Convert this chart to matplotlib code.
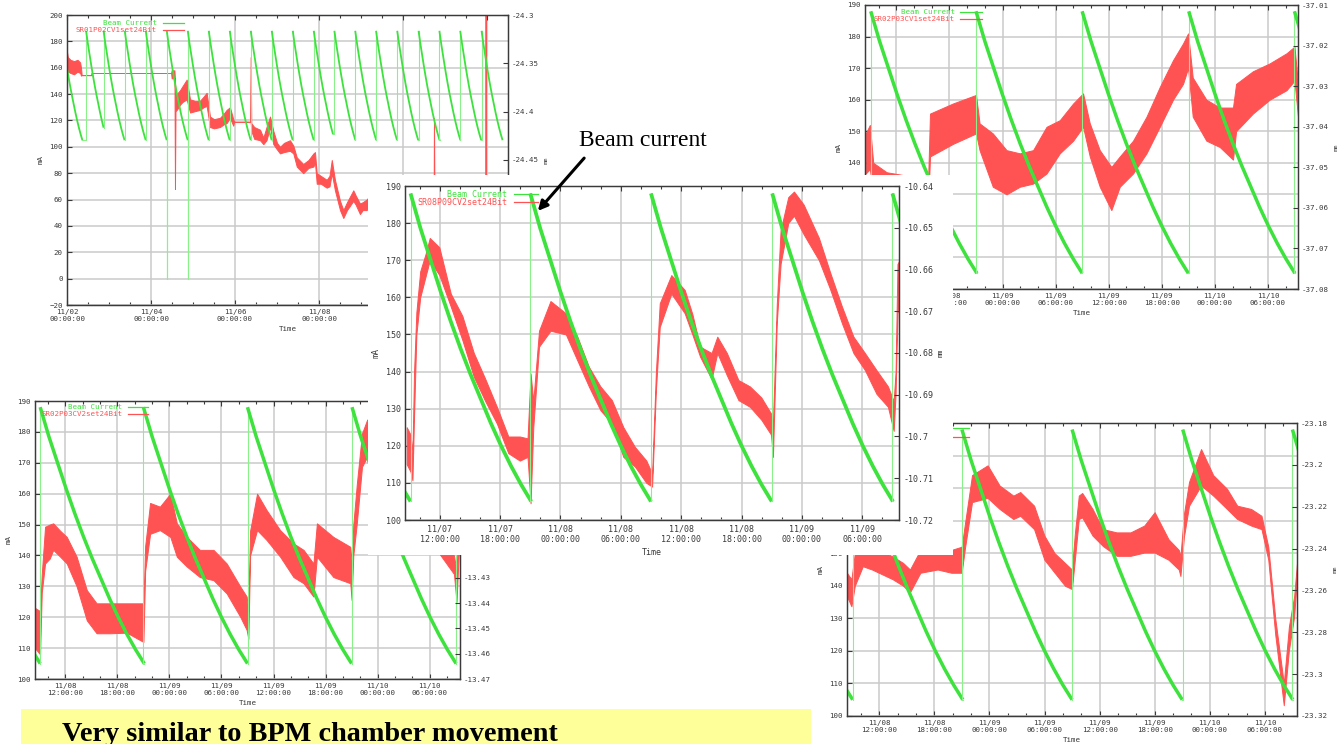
import numpy as np
import matplotlib.pyplot as plt
from matplotlib.patches import Rectangle, FancyArrowPatch
from matplotlib.ticker import MultipleLocator

W, H = 1340, 744
GREEN = '#3de23d'
GREEN_THIN = '#8af08a'
RED = '#ff5252'
GRID = '#cacaca'
INK = '#3a3a3a'

plt.rcParams['font.family'] = ['DejaVu Sans Mono']

# beam current after a refill: hours since refill -> mA
DECAY_H = [0, 1, 2, 3, 4, 5, 6, 7, 8, 9, 10, 11, 12]
DECAY_MA = [188, 178.5, 170, 161.5, 153.5, 146, 139, 132.5, 126, 120, 114.5, 109.5, 105]

# refill times (hours from first midnight of each window)
REFILLS_2DAY = [-2.9, 9.1, 21.0, 33.0, 45.05, 57.0]
REFILLS_10DAY = [-3.2, 10.9, 20.9, 33.0, 45.0, 57.0, 69.0, 81.0, 93.0, 105.0, 117.0,
                 129.0, 141.0, 152.8, 164.7, 176.6, 188.7, 200.9, 212.8, 224.7, 236.9]
DUMPS_10DAY = [57.0, 69.0]

# corrector setpoints, read as band (low/high) in mA-axis units
TL_T = [0.0, 0.5, 2, 4, 6, 7.5, 8.0, 8.4, 14.0, 14.1, 59.5, 59.8, 61.4, 61.7, 62.0, 62.7,
        64.6, 66, 68.4, 70.3, 73, 76, 78, 79.8, 81.7, 84, 87.4, 89.5, 91.2, 93.1, 95, 95.5,
        104.6, 104.95, 105.3, 107, 110.3, 112.2, 114, 116, 117.9, 120, 121.7, 124, 127.4,
        129.3, 131.3, 135, 138, 140.8, 141.7, 142.7, 145, 148.4, 150, 151.3, 153.1, 156,
        157.9, 160, 163.6, 165, 167.4, 169, 171.2, 173, 180, 190, 200, 209.5, 209.7, 210,
        220, 230, 239.0, 239.2, 239.4, 252]
TL_LO = [160, 157, 156, 155, 157, 156, 154, 154.4, 154.4, 156, 156, 152, 152, 68, 127, 128,
         132, 134, 136, 126, 127, 128, 130, 131, 115, 114, 115, 117, 118, 122, 116, 119,
         119, 119, 112, 106, 105, 102, 105, 115, 102, 98, 95, 96, 97,
         95, 85, 80, 84, 85, 88, 72, 72, 69, 70, 80, 67, 52,
         46, 52, 59, 56, 49, 52, 52, 55, 50, 45, 48, 50, 50, 48,
         44, 46, 45, 40, 45, 42]
TL_HI = [172, 168, 166, 165, 166, 164, 160, 154.4, 154.4, 156, 156, 158, 158, 150, 140, 140,
         143, 146, 151, 136, 135, 135, 138, 141, 123, 121, 122, 125, 128, 130, 121, 119,
         119, 168, 118, 115, 113, 107, 115, 123, 112, 103, 100, 103, 105,
         101, 92, 87, 90, 95, 96, 80, 78, 75, 78, 90, 75, 59,
         52, 58, 67, 63, 57, 58, 60, 63, 58, 55, 56, 58, 122, 56,
         52, 54, 53, 205, 53, 50]

C_T = [8.72, 9.10, 9.29, 9.45, 9.68, 10.06, 10.63, 11.01, 11.96, 13.1, 14.25, 15.39, 16.53,
       17.68, 18.82, 19.96, 20.73, 21.03, 21.3, 21.87, 23.01, 24.54, 25.68, 26.82, 27.97,
       29.11, 30.25, 31.4, 32.54, 33.11, 33.49, 33.87, 35.02, 36.35, 37.11, 37.88, 39.02,
       39.59, 40.54, 41.69, 42.83, 43.97, 44.93, 45.12, 45.5, 45.88, 46.64, 47.21, 48.17,
       49.69, 50.83, 51.98, 53.12, 54.26, 55.41, 56.55, 57.12, 57.31, 57.5, 57.69]
C_LO = [115, 113, 110.7, 128, 150, 160, 166, 170, 166, 157.5, 148.5, 138.6, 132,
        126, 118, 116, 117, 104.5, 125, 146.7, 151, 150, 143, 136, 129.6,
        126, 117, 114.4, 110, 109, 135, 152, 161, 155.7, 150, 144, 138,
        145, 139, 132.3, 130.5, 127, 123, 117, 153, 169, 180, 182, 177,
        170, 162, 153, 145, 140.4, 134, 130.5, 124, 134, 155.7, 158]
C_HI = [125, 123, 118, 140, 156, 167, 172, 176, 173.5, 161, 155, 145, 138,
        130.5, 122.5, 122.5, 122, 139.5, 132, 151, 159, 155.7, 149.4, 141.3, 136,
        132.3, 125, 119.7, 116, 112.5, 140, 158.4, 166, 162, 155.5, 146.7, 145,
        149.4, 145, 137.7, 136, 133, 128.7, 126, 158, 178, 187, 188.5, 185,
        176, 166.5, 157.5, 149.4, 145, 140.4, 136, 132, 140, 169, 170]

TR_T = [8.53, 9.0, 9.38, 10.9, 13, 15.6, 15.8, 18.4, 21.0, 21.4, 22.9, 24.45, 25.95, 27.45,
        28.97, 30.47, 31.98, 33.1, 33.86, 34.99, 36.3, 37.25, 38.75, 40.27, 41.77, 43.27,
        44.4, 44.97, 45.5, 47.04, 48.55, 50.05, 50.4, 52.3, 54.2, 56.1, 57.0, 57.4]
TR_LO = [136.6, 138, 130, 128, 127, 127, 142, 146, 149.3, 144, 132.4, 130, 132.4, 133.4,
         136.6, 143, 147, 151.4, 142, 132.4, 125, 132.4, 136.6, 143, 151.4, 160,
         165, 170, 154.6, 147, 145, 141, 150, 155.6, 160, 163, 166, 154.6]
TR_HI = [149.3, 152, 140, 137, 136, 136, 155.6, 158.8, 161.5, 152.5, 149.3, 144, 143, 144,
         151.4, 153.5, 158.8, 162, 152.5, 144, 138.7, 142, 147, 154.6, 164, 172.5,
         177.8, 181, 167, 160, 157.5, 157.5, 165, 169, 171.5, 174.7, 176.8, 165]

BL_T = [8.5, 9.08, 9.28, 9.66, 10.2, 10.6, 11.4, 12.16, 13.3, 14.47, 15.6, 17.16, 19.08,
        21.0, 21.2, 21.77, 22.9, 24.1, 24.85, 26.0, 27.5, 29.08, 30.6, 32.15, 32.9, 33.1,
        33.3, 34.1, 35.2, 36.76, 38.3, 39.46, 40.6, 41.0, 42.9, 44.85, 45.0, 45.2, 45.6,
        46.2, 46.8, 48.5, 50.5, 52.5, 54.5, 56.8, 57.1, 57.5]
BL_LO = [110, 108, 128, 137.4, 139, 141.8, 139.6, 137.4, 130, 119, 114.8, 114.8, 115,
         112, 135, 147, 148.2, 146, 139.6, 136.4, 133, 132, 127.7, 120.2, 115.9, 113,
         140, 148.2, 145, 139.6, 133, 131, 126.7, 139.6, 133, 131, 125.6, 140, 150.4,
         168.7, 172, 170, 160, 150, 143, 134, 125, 150]
BL_HI = [123, 122, 134, 149.3, 150, 150.4, 148, 146, 139.6, 128.8, 124.5, 124.5, 124.5,
         124.5, 143, 157, 155.8, 160, 150.4, 146, 141.8, 141.8, 137.4, 130, 126.7, 122,
         148, 160, 154.7, 148.2, 143.9, 141.8, 137.4, 150.4, 146, 142.8, 138, 150, 163,
         179.5, 184, 180, 170, 160, 151, 140, 135, 160]

BR_T = [8.47, 8.96, 9.33, 10.2, 11.2, 13.46, 14.6, 15.34, 16.47, 18.34, 19.85, 20.97, 21.35,
        22.1, 23.8, 25.1, 26.6, 27.35, 28.86, 29.98, 31.1, 32.23, 32.98, 33.3, 33.73, 34.1,
        35.23, 36.36, 37.86, 39.36, 40.86, 41.99, 43.5, 44.62, 44.8, 45.18, 45.74, 47.05,
        48.37, 49.87, 50.99, 52.5, 53.63, 54.37, 55.13, 56.06, 56.62, 57.19, 57.5]
BR_LO = [136.8, 133.7, 140, 146, 145, 142, 140, 138, 144, 145, 144, 144, 152,
         165.7, 167, 163.6, 160.5, 161.5, 157.4, 148, 144, 140, 139, 148, 160.5, 161,
         155.4, 152.2, 149.2, 149.2, 150.2, 150.2, 148, 145, 143, 155, 164.6, 170.8,
         167.7, 163.6, 160.5, 158.5, 157.4, 148, 125, 103.3, 120.3, 130.6, 143]
BR_HI = [144, 142, 150, 156, 152, 149, 147, 145, 151, 150, 151, 152, 159.5,
         174, 177, 170.8, 167.7, 168.8, 164.6, 155.4, 150, 147, 145, 156, 167.7, 168.5,
         163.6, 157.4, 156.4, 156.4, 158.5, 162.6, 154.3, 151, 149, 162, 171.9, 182,
         174, 169.8, 164.6, 163.6, 161.5, 152, 130, 110, 127.5, 136.8, 147]

HOURS_6 = [12, 18, 24, 30, 36, 42, 48, 54]
LABELS_0810 = ['11/08\n12:00:00', '11/08\n18:00:00', '11/09\n00:00:00', '11/09\n06:00:00',
               '11/09\n12:00:00', '11/09\n18:00:00', '11/10\n00:00:00', '11/10\n06:00:00']
LABELS_0709 = ['11/07\n12:00:00', '11/07\n18:00:00', '11/08\n00:00:00', '11/08\n06:00:00',
               '11/08\n12:00:00', '11/08\n18:00:00', '11/09\n00:00:00', '11/09\n06:00:00']
HOURS_48 = [0, 48, 96, 144, 192, 240]
LABELS_0212 = ['11/02\n00:00:00', '11/04\n00:00:00', '11/06\n00:00:00', '11/08\n00:00:00',
               '11/10\n00:00:00', '11/12\n00:00:00']

Y2_TL = [-24.6, -24.55, -24.5, -24.45, -24.4, -24.35, -24.3]
Y2_TR = [-37.08, -37.07, -37.06, -37.05, -37.04, -37.03, -37.02, -37.01]
Y2_BL = [-13.47, -13.46, -13.45, -13.44, -13.43]
Y2_BR = [-23.32, -23.3, -23.28, -23.26, -23.24, -23.22, -23.2, -23.18]
Y2_C = [-10.72, -10.71, -10.7, -10.69, -10.68, -10.67, -10.66, -10.65, -10.64]

fig = plt.figure(figsize=(W / 100, H / 100), dpi=100)


def px_rect(x0, y0, x1, y1):
    return [x0 / W, 1 - y1 / H, (x1 - x0) / W, (y1 - y0) / H]


def beam_current(ax, refills, dumps, lw):
    for i, t0 in enumerate(refills):
        gap = refills[i + 1] - t0 if i + 1 < len(refills) else 24
        hh = [t0 + h for h in DECAY_H if h <= gap + 0.15]
        mm = DECAY_MA[:len(hh)]
        ax.plot(hh, mm, color=GREEN, lw=lw, solid_capstyle='butt', zorder=3)
        if i + 1 < len(refills):
            t1 = refills[i + 1]
            low = 0 if t1 in dumps else mm[-1]
            ax.plot([hh[-1], t1, t1, t1], [mm[-1], mm[-1], low, DECAY_MA[0]],
                    color=GREEN_THIN, lw=0.8, zorder=3)


def panel(rect, z, xlim, xticks, xlabels, xminor, ylim, ystep, y2lim, y2ticks,
          refills, dumps, red, name, leg, fs, glw, y2label=True):
    ax = fig.add_axes(px_rect(*rect), zorder=z)
    ax.set_facecolor('white')
    ax.set_xlim(*xlim)
    ax.set_ylim(*ylim)
    ax.set_xticks(xticks, xlabels)
    ax.xaxis.set_minor_locator(MultipleLocator(xminor))
    ax.set_yticks(np.arange(ylim[0], ylim[1] + 1, ystep))
    ax.grid(True, which='major', color=GRID, lw=1.1)
    ax.set_axisbelow(True)
    ax.tick_params(which='both', direction='in', top=True, labelsize=fs, colors=INK,
                   length=3.5, width=0.8, pad=3)
    ax.tick_params(which='minor', length=2)
    for s in ax.spines.values():
        s.set_color(INK)
        s.set_linewidth(0.9)
    ax.set_xlabel('Time', fontsize=fs, color=INK, labelpad=3)
    ax.set_ylabel('mA', fontsize=fs, color=INK, labelpad=4)

    t, lo, hi = red
    ax.fill_between(t, lo, hi, facecolor=RED, edgecolor=RED, lw=0.7, zorder=2)
    beam_current(ax, refills, dumps, glw)

    # gnuplot-style key in the upper left corner
    w_px = rect[2] - rect[0]
    h_px = rect[3] - rect[1]
    text_end, l0, l1, r1, r2 = leg
    for row, col, label in [(r1, GREEN, 'Beam Current'), (r2, RED, name)]:
        yy = 1 - row / h_px
        if label:
            ax.text(text_end / w_px, yy, label, transform=ax.transAxes, ha='right',
                    va='center', fontsize=fs, color=col, zorder=4)
        ax.plot([l0 / w_px, l1 / w_px], [yy, yy], transform=ax.transAxes, color=col,
                lw=0.9, zorder=4)

    ax2 = ax.twinx()
    ax2.set_zorder(z + 0.01)
    ax2.set_ylim(*y2lim)
    ax2.set_yticks(y2ticks, [f'{v:g}' for v in y2ticks])
    ax2.tick_params(direction='in', labelsize=fs, colors=INK, length=3.5, width=0.8, pad=3)
    for s in ax2.spines.values():
        s.set_color(INK)
        s.set_linewidth(0.9)
    if y2label:
        ax2.set_ylabel('mm', fontsize=fs - 1, color=INK, labelpad=3)
    return ax


# 10-day overview, upper left
panel((67, 15, 508, 305), 1, (0, 252), HOURS_48, LABELS_0212, 12, (-20, 200), 20,
      (-24.6, -24.3), Y2_TL, REFILLS_10DAY, DUMPS_10DAY, (TL_T, TL_LO, TL_HI),
      'SR01P02CV1set24Bit', (90, 96, 117, 7.7, 15), 5.4, 1.3)

# upper right
panel((865, 5, 1298, 289), 1, (8.45, 57.4), HOURS_6, LABELS_0810, 2, (100, 190), 10,
      (-37.08, -37.01), Y2_TR, REFILLS_2DAY, [], (TR_T, TR_LO, TR_HI),
      'SR02P03CV1set24Bit', (90, 95, 117, 7.3, 14.3), 5.4, 2.5)

# lower left
panel((35, 401, 460, 679), 1, (8.5, 57.5), HOURS_6, LABELS_0810, 2, (100, 190), 10,
      (-13.47, -13.36), Y2_BL, REFILLS_2DAY, [], (BL_T, BL_LO, BL_HI),
      'SR02P03CV2set24Bit', (87, 93, 113, 6, 13), 5.4, 2.5, y2label=False)

# lower right
panel((847, 423, 1297, 716), 1, (8.48, 57.5), HOURS_6, LABELS_0810, 2, (100, 190), 10,
      (-23.32, -23.18), Y2_BR, REFILLS_2DAY, [], (BR_T, BR_LO, BR_HI),
      '', (0, 100, 122, 5, 14), 5.4, 2.5)

# white backing for the enlarged centre plot
mask = fig.add_axes([0, 0, 1, 1], zorder=2)
mask.set_xlim(0, W)
mask.set_ylim(H, 0)
mask.axis('off')
mask.add_patch(Rectangle((368, 175), 585, 380, facecolor='white', edgecolor='none'))

# centre plot
panel((405, 186, 899, 520), 3, (8.55, 57.65), HOURS_6, LABELS_0709, 2, (100, 190), 10,
      (-10.72, -10.64), Y2_C, REFILLS_2DAY, [], (C_T, C_LO, C_HI),
      'SR08P09CV2set24Bit', (102, 109, 133, 8.3, 16.3), 6.0, 2.7)

# annotations
ov = fig.add_axes([0, 0, 1, 1], zorder=10)
ov.set_xlim(0, W)
ov.set_ylim(H, 0)
ov.axis('off')
ov.text(579, 146, 'Beam current', fontsize=17, family='Liberation Serif',
        ha='left', va='baseline', color='black')
ov.add_patch(FancyArrowPatch((586, 156), (536, 213), arrowstyle='-|>',
                             mutation_scale=14, lw=2.2, color='black'))
ov.add_patch(Rectangle((21, 709), 790, 40, facecolor='#ffff99', edgecolor='none'))
ov.text(62, 741, 'Very similar to BPM chamber movement', fontsize=20.3,
        family='Liberation Serif', weight='bold', ha='left', va='baseline', color='black')

fig.savefig('out.png', dpi=100)
